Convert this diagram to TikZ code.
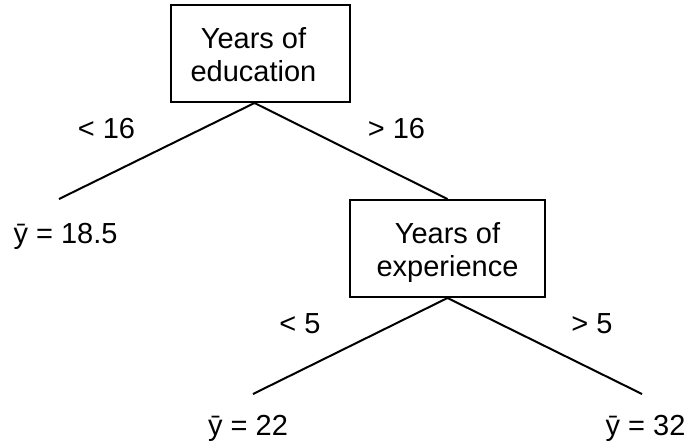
\documentclass[tikz,border=0pt]{standalone}
\usepackage{fontspec}
\setmainfont{Liberation Sans}
\usetikzlibrary{positioning}

% two-line text of a split, optional padding on the right
\newcommand{\splitlabel}[3][0pt]{\begin{tabular}{@{}c@{\hspace{#1}}}\rule{0pt}{16pt}#2\\#3\end{tabular}}

\begin{document}
\begin{tikzpicture}[x=0.5pt,y=-0.5pt,
  every node/.style={font=\fontsize{14.5}{16.5}\selectfont},
  question/.style={draw, line width=1pt, minimum height=48.5pt, inner sep=0pt},
  leaf/.style={anchor=base},
  branch/.style={anchor=base},
  edge/.style={line width=1pt}]
\useasboundingbox (0,0) rectangle (686,447);
% splits
\node[question, minimum width=89.5pt] (edu) at (260.5,53.5) {\splitlabel[7pt]{Years of}{education}};
\node[question, minimum width=97.5pt] (exp) at (447.5,248.5) {\splitlabel{Years of}{experience}};
% leaves
\node[leaf] (low) at (65.5,243) {ȳ = 18.5};
\node[leaf] (mid) at (248,435) {ȳ = 22};
\node[leaf] (high) at (645.5,435) {ȳ = 32};
% free ends of the branches
\coordinate (lowtop) at (59,199);
\coordinate (midtop) at (253,394);
\coordinate (hightop) at (642,394);
\draw[edge] ([xshift=-3pt]edu.south) -- (lowtop);
\draw[edge] ([xshift=-3pt]edu.south) -- (exp.north);
\draw[edge] (exp.south) -- (midtop);
\draw[edge] (exp.south) -- (hightop);
% branch labels
\node[branch] (lt16) at (106.5,138) {< 16};
\node[branch] (gt16) at (396.5,138) {> 16};
\node[branch] (lt5) at (300,333) {< 5};
\node[branch] (gt5) at (592,333) {> 5};
\end{tikzpicture}
\end{document}
